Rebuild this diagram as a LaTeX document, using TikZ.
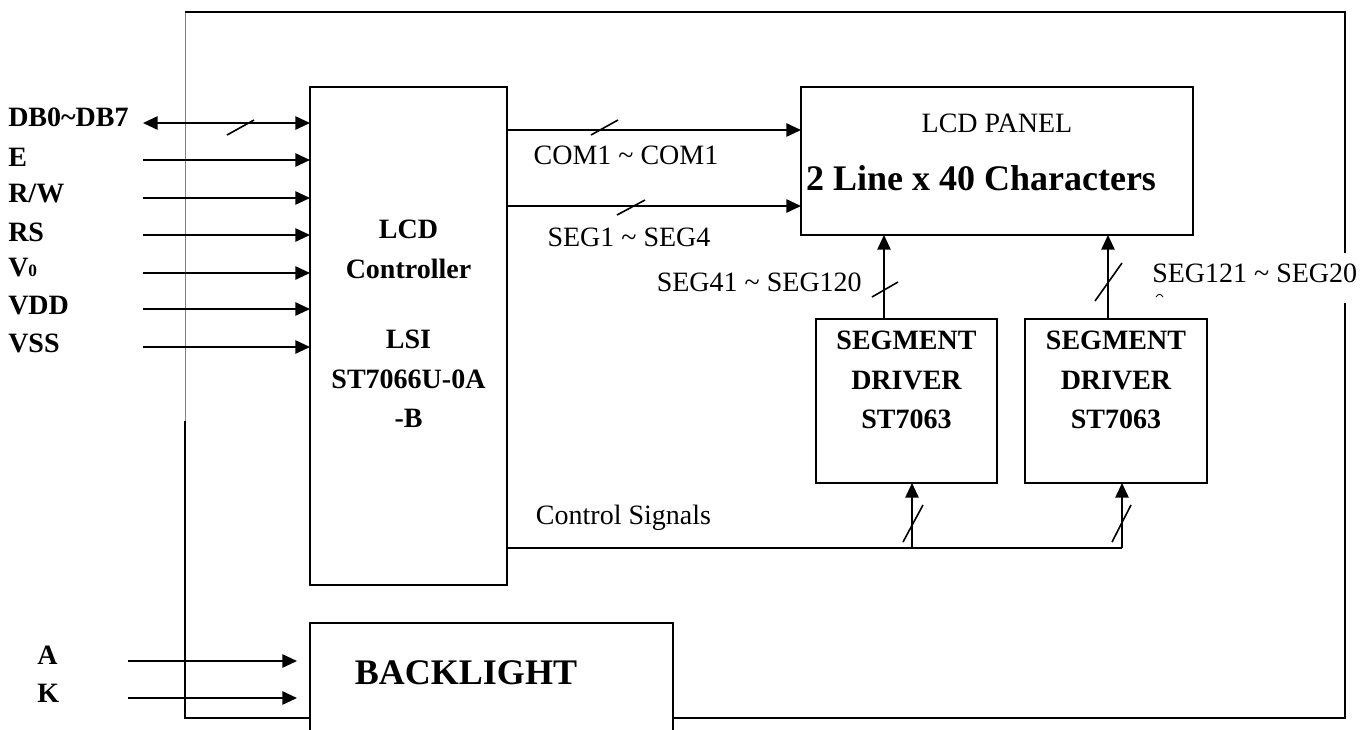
\documentclass[tikz,border=0pt]{standalone}
\usepackage{fontspec}
\setmainfont{Liberation Serif}
\usetikzlibrary{arrows.meta}

\tikzset{
  blk/.style={draw, line width=1.3pt, inner sep=0pt, outer sep=0pt},
  bus/.style={line width=1.3pt},
  sig/.style={line width=1.3pt, -{Triangle[length=11pt,width=10pt]}},
  tick/.style={line width=1.2pt},
  txt/.style={inner sep=0pt, font=\fontsize{21}{25}\selectfont},
  btxt/.style={inner sep=0pt, font=\bfseries\fontsize{21}{29.5}\selectfont},
  bigtxt/.style={inner sep=0pt, font=\bfseries\fontsize{27}{32}\selectfont},
}

\begin{document}
\begin{tikzpicture}[x=0.75pt,y=0.75pt,yscale=-1,xscale=1]
\useasboundingbox (0,0) rectangle (1368,729);

%Outer frame
\draw [line width=0.4pt, color=gray]  (185,12) -- (185,421) ;
\draw [bus]  (185,421) -- (185,718) -- (310,718) ;
\draw [bus]  (185,12) -- (1345,12) -- (1345,253) ;
\draw [bus]  (1345,303) -- (1345,718) -- (673,718) ;

%Shape: Rectangle (controller)
\node [blk, minimum width=147.75pt, minimum height=373.5pt] (ctrl) at (408.5,336) {};
%Shape: Rectangle (lcd panel)
\node [blk, minimum width=294pt, minimum height=111pt] (lcd) at (997,161) {};
%Shape: Rectangle (segment drivers)
\node [blk, minimum width=135.75pt, minimum height=123pt] (drv1) at (906.5,401) {};
\node [blk, minimum width=136.5pt, minimum height=123pt] (drv2) at (1116,401) {};
%Shape: Rectangle (backlight, open at the bottom)
\draw [bus]  (310,735) -- (310,623) -- (673,623) -- (673,735) ;

%Input arrows
\coordinate (inDB) at (143,123);
\coordinate (inE) at (143,160);
\coordinate (inRW) at (143,198);
\coordinate (inRS) at (143,235);
\coordinate (inV) at (143,273);
\coordinate (inVDD) at (143,309);
\coordinate (inVSS) at (143,347);
\draw [line width=1.3pt, {Triangle[length=11pt,width=10pt]}-{Triangle[length=11pt,width=10pt]}]  (inDB) -- (inDB -| ctrl.west) ;
\draw [tick]  (227,135) -- (254,120) ;
\foreach \p in {inE,inRW,inRS,inV,inVDD,inVSS}
  \draw [sig]  (\p) -- (\p -| ctrl.west) ;

%Backlight arrows
\coordinate (inA) at (128,661);
\coordinate (outA) at (297,661);
\coordinate (inK) at (128,698);
\coordinate (outK) at (297,698);
\draw [sig]  (inA) -- (outA) ;
\draw [sig]  (inK) -- (outK) ;

%COM and SEG buses
\coordinate (com) at (650,130);
\coordinate (seg) at (650,206);
\draw [sig]  (com -| ctrl.east) -- (com -| lcd.west) ;
\draw [tick]  (591,135) -- (618,120) ;
\draw [sig]  (seg -| ctrl.east) -- (seg -| lcd.west) ;
\draw [tick]  (617,215) -- (645,200) ;

%Driver outputs
\coordinate (up1) at (884,319);
\coordinate (up2) at (1108,319);
\draw [sig]  (up1) -- (up1 |- lcd.south) ;
\draw [tick]  (872,297) -- (898,282) ;
\draw [sig]  (up2) -- (up2 |- lcd.south) ;
\draw [tick]  (1095,301) -- (1122,263) ;

%Control signals
\coordinate (cs1) at (912,548);
\coordinate (cs2) at (1122,548);
\draw [bus]  (cs1 -| ctrl.east) -- (cs2) ;
\draw [sig]  (cs1) -- (cs1 |- drv1.south) ;
\draw [tick]  (903,542) -- (923,505) ;
\draw [sig]  (cs2) -- (cs2 |- drv2.south) ;
\draw [tick]  (1112,542) -- (1131,505) ;

% Text Node
\node [btxt, anchor=west] (tDB) at (8,117) {DB0\textasciitilde DB7};
\node [btxt, anchor=west] (tE) at (8,157) {E};
\node [btxt, anchor=west] (tRW) at (8,193) {R/W};
\node [btxt, anchor=west] (tRS) at (8,232) {RS};
\node [btxt, anchor=west] (tV) at (8,268) {V{\fontsize{13}{13}\selectfont 0}};
\node [btxt, anchor=west] (tVDD) at (8,306) {VDD};
\node [btxt, anchor=west] (tVSS) at (8,343) {VSS};
\node [btxt, anchor=west] (tA) at (37,655) {A};
\node [btxt, anchor=west] (tK) at (37,693) {K};
% Text Node
\node [btxt, align=center] (tctrl) at (408.5,324) {LCD\\Controller\\[23.5pt]LSI\\ST7066U-0A\\-B};
\node [txt] (tpanel) at (997,123) {LCD PANEL};
\node [bigtxt] (tchars) at (981,178) {2 Line x 40 Characters};
\node [btxt, align=center] (tdrv1) at (906.5,380) {SEGMENT\\DRIVER\\ST7063};
\node [btxt, align=center] (tdrv2) at (1116,380) {SEGMENT\\DRIVER\\ST7063};
\node [bigtxt] (tback) at (466,673) {BACKLIGHT};
% Text Node
\node [txt] (tcom) at (626,155) {COM1 \textasciitilde{} COM1};
\node [txt] (tseg) at (629,237) {SEG1 \textasciitilde{} SEG4};
\node [txt, anchor=east] (tseg41) at (862,282) {SEG41 \textasciitilde{} SEG120};
\node [txt, anchor=west] (tseg121) at (1152,273) {SEG121 \textasciitilde{} SEG20};
\draw [line width=0.6pt]  (1156,297) .. controls (1158,293.5) and (1161,293.5) .. (1163,297) ;
\node [txt] (tcs) at (623.5,518) {Control Signals};

\end{tikzpicture}
\end{document}
